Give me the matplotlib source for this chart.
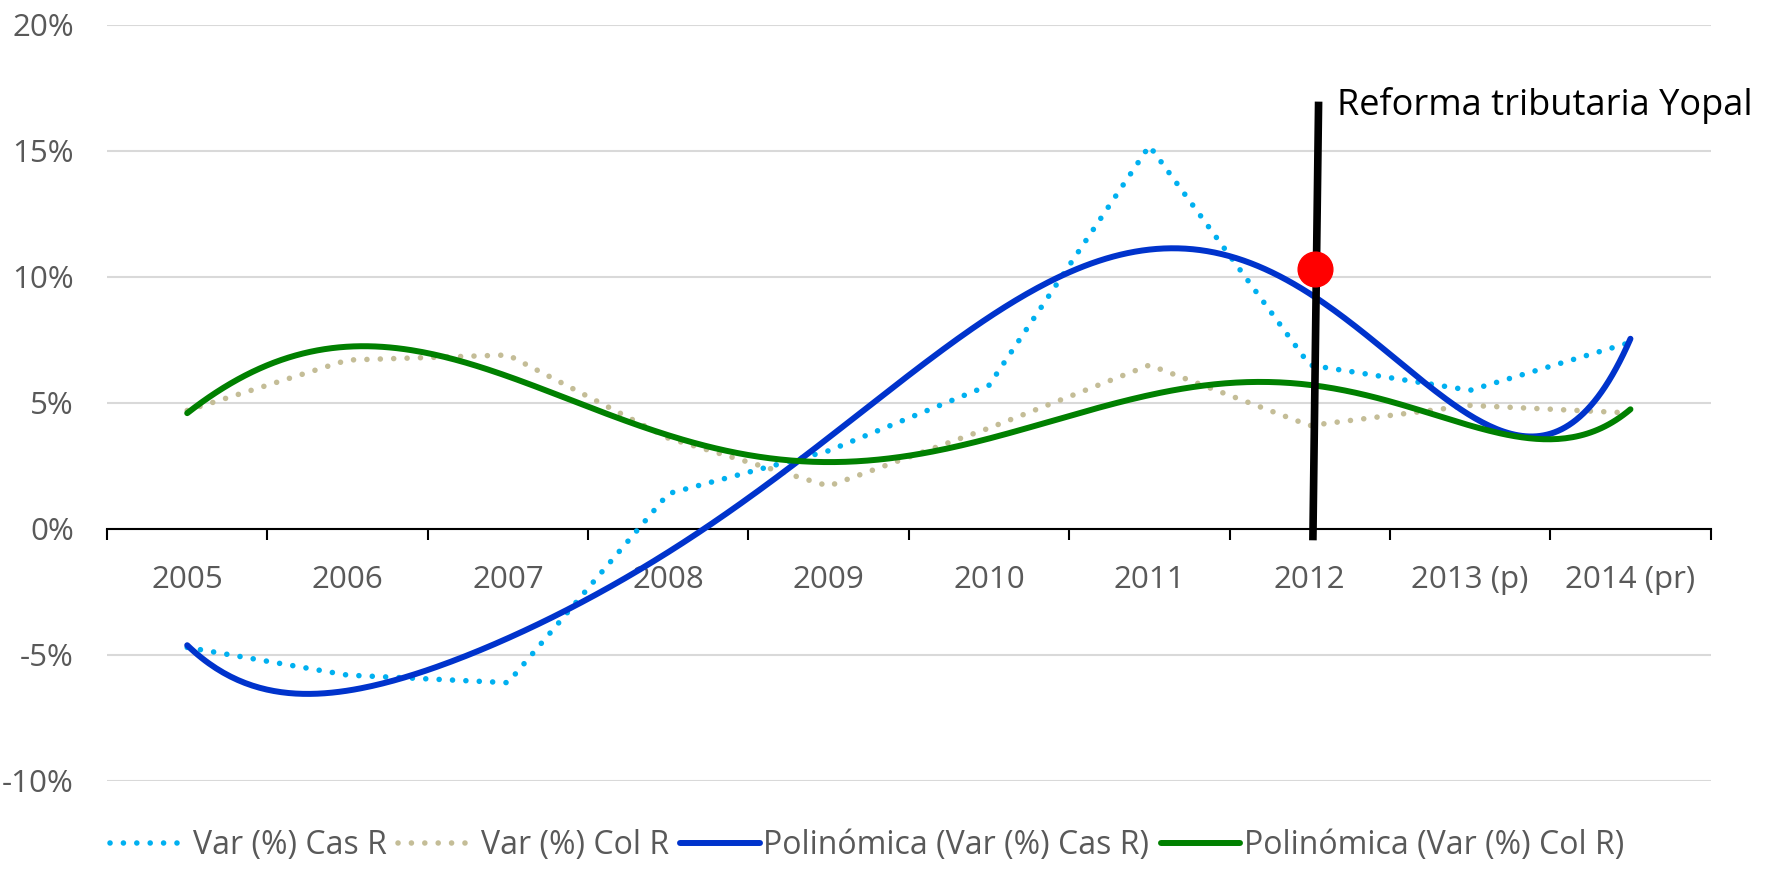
import numpy as np
import matplotlib.pyplot as plt
from matplotlib.ticker import FuncFormatter

plt.rcParams['font.family'] = ['Open Sans', 'DejaVu Sans']

# categories and values (percent)
years = ["2005", "2006", "2007", "2008", "2009", "2010", "2011", "2012", "2013 (p)", "2014 (pr)"]
cas_r = [-4.7, -5.8, -6.1, 1.4, 3.1, 5.7, 15.2, 6.5, 5.5, 7.4]
col_r = [4.7, 6.7, 6.9, 3.6, 1.7, 4.0, 6.5, 4.1, 4.9, 4.6]

reform_year = "2012"
reform_value = 10.3
reform_top = 16.8
reform_label = "Reforma tributaria Yopal"

gray = "#595959"

fig = plt.figure(figsize=(17.69, 8.73), dpi=100)
ax = fig.add_axes([0.0605, 0.1054, 0.9065, 0.8662])

x = np.arange(len(years))
xs = np.linspace(0, len(years) - 1, 400)

dots = (0, (0.01, 2.4))
ax.plot(x, cas_r, color="#00B0F0", lw=4.0, linestyle=dots, dash_capstyle="round",
        label="Var (%) Cas R", zorder=3)
ax.plot(x, col_r, color="#C4BD97", lw=4.0, linestyle=dots, dash_capstyle="round",
        label="Var (%) Col R", zorder=3)

# Excel-style polynomial trendlines (order 6)
p_cas = np.polyfit(x + 1, cas_r, 6)
p_col = np.polyfit(x + 1, col_r, 6)
ax.plot(xs, np.polyval(p_cas, xs + 1), color="#0033CC", lw=4.3,
        solid_capstyle="round", label="Polinómica (Var (%) Cas R)", zorder=4)
ax.plot(xs, np.polyval(p_col, xs + 1), color="#008000", lw=4.3,
        solid_capstyle="round", label="Polinómica (Var (%) Col R)", zorder=4)

# reform marker
ri = years.index(reform_year)
ax.plot([ri + 0.02, ri + 0.055], [-0.3, reform_top], color="black", lw=5.5, zorder=5)
ax.plot([ri + 0.033], [reform_value], "o", color="#FF0000", ms=25, zorder=6)
ax.text(ri + 0.17, reform_top, reform_label, fontsize=26, color="black",
        va="center", ha="left", zorder=6, clip_on=False)

ax.set_xlim(-0.5, len(years) - 0.5)
ax.set_ylim(-10, 20)
ax.set_yticks(np.arange(-10, 21, 5))
ax.yaxis.set_major_formatter(FuncFormatter(lambda v, p: f"{v:.0f}%"))
ax.grid(axis="y", color="#D9D9D9", lw=1.5)
ax.set_axisbelow(True)

for s in ["left", "right", "top"]:
    ax.spines[s].set_visible(False)
ax.spines["bottom"].set_position(("data", 0))
ax.spines["bottom"].set_color("black")
ax.spines["bottom"].set_linewidth(1.5)

ax.set_xticks(np.arange(-0.5, len(years), 1.0))
ax.set_xticklabels([])
ax.set_xticks(x, minor=True)
ax.set_xticklabels(years, minor=True)
ax.tick_params(axis="x", which="major", length=8, width=1.5, color="black", direction="out")
ax.tick_params(axis="x", which="minor", length=0, pad=26, labelsize=22.5, labelcolor=gray)
ax.tick_params(axis="y", length=0, pad=24, labelsize=22.5, labelcolor=gray)

leg = fig.legend(loc="center", bbox_to_anchor=(0.49, 0.031), ncol=4, frameon=False,
                 fontsize=23, handlelength=2.5, handletextpad=0.1, columnspacing=0.35)
for t in leg.get_texts():
    t.set_color(gray)

fig.savefig("out.png", dpi=100)
